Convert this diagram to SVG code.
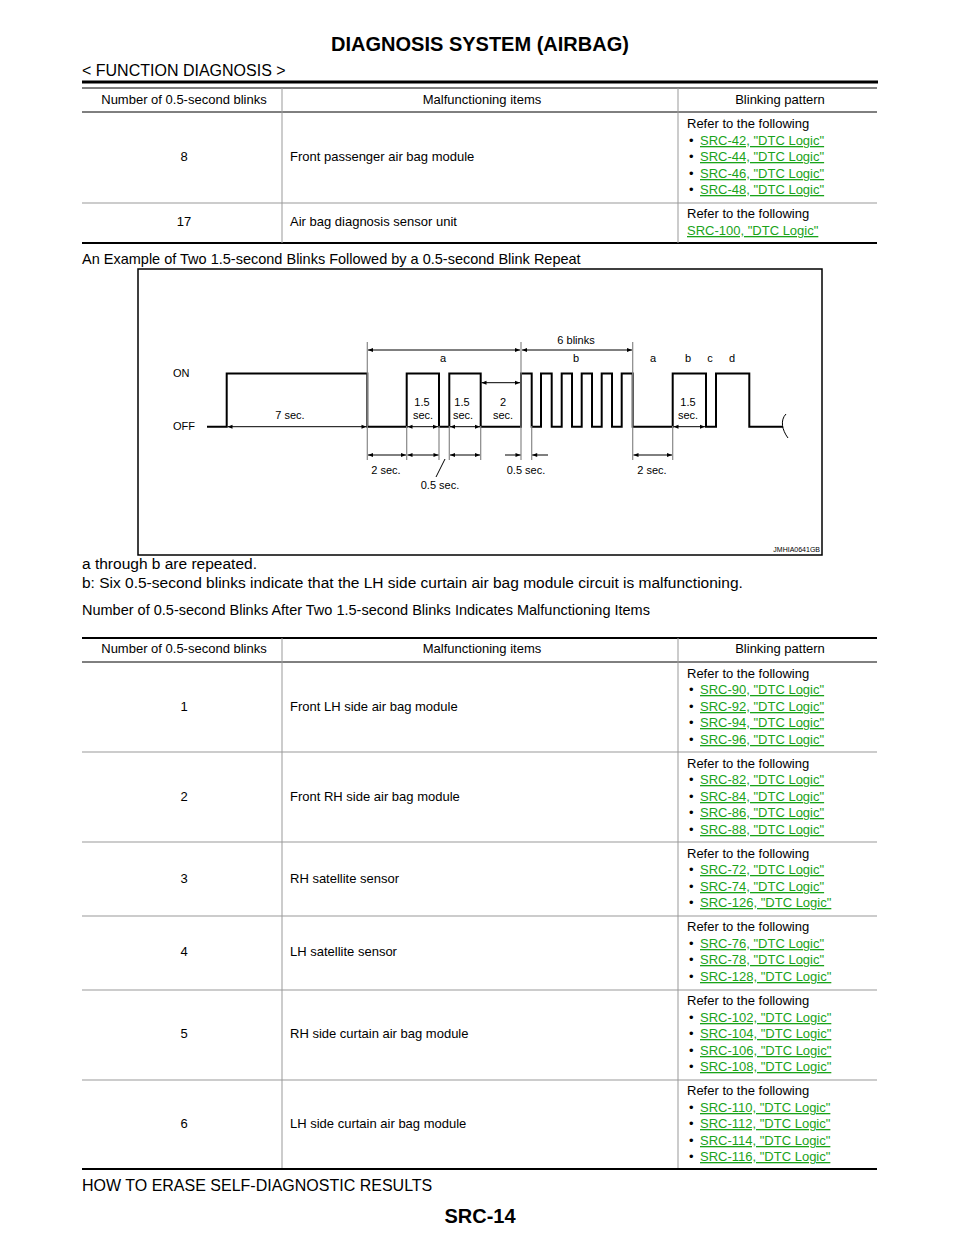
<svg xmlns="http://www.w3.org/2000/svg" width="960" height="1242" viewBox="0 0 960 1242">
<defs>
<marker id="ar" viewBox="0 0 10 10" refX="10" refY="5" markerWidth="7" markerHeight="5" orient="auto-start-reverse" markerUnits="userSpaceOnUse"><path d="M0,1 L10,5 L0,9 z" fill="#000"/></marker>
</defs>
<style>
text{font-family:"Liberation Sans",Arial,sans-serif;fill:#000}
.t{font-size:13px}
.c{text-anchor:middle}
.l{fill:#1aa31a;text-decoration:underline}
.g{stroke:#000;stroke-width:1;fill:none}
.w{stroke:#000;stroke-width:2;fill:none}
.e{stroke:#888;stroke-width:1.2}
.d{stroke:#000;stroke-width:1;marker-start:url(#ar);marker-end:url(#ar)}
.s{font-size:11px}
</style>
<rect width="960" height="1242" fill="#fff"/>
<text x="480" y="51" class="c" font-size="20" font-weight="bold">DIAGNOSIS SYSTEM (AIRBAG)</text>
<text x="82" y="76" font-size="16">&lt; FUNCTION DIAGNOSIS &gt;</text>
<line x1="82" y1="82" x2="878" y2="82" stroke="#000" stroke-width="3"/>

<g id="table1">
<line x1="82" y1="88" x2="877" y2="88" class="g"/>
<line x1="82" y1="112" x2="877" y2="112" class="g"/>
<line x1="82" y1="203" x2="877" y2="203" stroke="#999"/>
<line x1="82" y1="243" x2="877" y2="243" stroke="#000" stroke-width="2"/>
<line x1="282" y1="88" x2="282" y2="243" stroke="#999"/>
<line x1="678" y1="88" x2="678" y2="243" stroke="#999"/>
<text x="184" y="104" class="t c">Number of 0.5-second blinks</text>
<text x="482" y="104" class="t c">Malfunctioning items</text>
<text x="780" y="104" class="t c">Blinking pattern</text>
<text x="184" y="161" class="t c">8</text>
<text x="290" y="161" class="t">Front passenger air bag module</text>
<text x="687" y="128" class="t">Refer to the following</text>
<text x="689" y="145" class="t">•</text><text x="700" y="145" class="t l">SRC-42, "DTC Logic"</text>
<text x="689" y="161" class="t">•</text><text x="700" y="161" class="t l">SRC-44, "DTC Logic"</text>
<text x="689" y="178" class="t">•</text><text x="700" y="178" class="t l">SRC-46, "DTC Logic"</text>
<text x="689" y="194" class="t">•</text><text x="700" y="194" class="t l">SRC-48, "DTC Logic"</text>
<text x="184" y="226" class="t c">17</text>
<text x="290" y="226" class="t">Air bag diagnosis sensor unit</text>
<text x="687" y="218" class="t">Refer to the following</text>
<text x="687" y="235" class="t l">SRC-100, "DTC Logic"</text>
</g>

<text x="82" y="264" font-size="14.5">An Example of Two 1.5-second Blinks Followed by a 0.5-second Blink Repeat</text>

<g id="chart">
<rect x="138" y="269" width="684" height="286" fill="none" stroke="#000" stroke-width="1.5"/>
<text x="173" y="377" class="s">ON</text>
<text x="173" y="430" class="s">OFF</text>
<path class="w" d="M207,426.7 H226.7 V373.5 H367.3 V426.7 H406.7 V373.5 H439 V426.7 H449.3 V373.5 H480.7 V426.7 H521 V373.5 H531.7 V426.7 H541 V373.5 H551.7 V426.7 H561.7 V373.5 H572 V426.7 H581.7 V373.5 H592 V426.7 H601.7 V373.5 H612 V426.7 H621.7 V373.5 H632.7 V426.7 H672.7 V373.5 H706 V426.7 H716 V373.5 H749.3 V426.7 H783"/>
<path class="g" d="M786,414 C780,420 782,430 788,438"/>
<g class="e">
<line x1="367.3" y1="342" x2="367.3" y2="460"/>
<line x1="521" y1="342" x2="521" y2="460"/>
<line x1="632.7" y1="342" x2="632.7" y2="426"/>
<line x1="406.7" y1="426" x2="406.7" y2="460"/>
<line x1="439" y1="426" x2="439" y2="460"/>
<line x1="449.3" y1="426" x2="449.3" y2="460"/>
<line x1="480.7" y1="426" x2="480.7" y2="460"/>
<line x1="531.7" y1="426" x2="531.7" y2="460"/>
<line x1="632.7" y1="426" x2="632.7" y2="460"/>
<line x1="672.7" y1="426" x2="672.7" y2="460"/>
</g>
<g id="dims">
<line class="d" x1="368" y1="350" x2="520" y2="350"/>
<line class="d" x1="522" y1="350" x2="632" y2="350"/>
<line class="d" x1="481.5" y1="382.7" x2="520" y2="382.7"/>
<line class="d" x1="227.5" y1="426.7" x2="366.5" y2="426.7"/>
<line class="d" x1="407.5" y1="426.7" x2="438" y2="426.7"/>
<line class="d" x1="450" y1="426.7" x2="480" y2="426.7"/>
<line class="d" x1="673.5" y1="426.7" x2="705" y2="426.7"/>
<line class="d" x1="368" y1="455" x2="406" y2="455"/>
<line class="d" x1="407.5" y1="455" x2="438.5" y2="455"/>
<line class="d" x1="450" y1="455" x2="480" y2="455"/>
<line class="d" x1="633.5" y1="455" x2="672" y2="455"/>
<line x1="505" y1="455" x2="520.5" y2="455" stroke="#000" marker-end="url(#ar)"/>
<line x1="548" y1="455" x2="532.2" y2="455" stroke="#000" marker-end="url(#ar)"/>
<line x1="445" y1="459" x2="436" y2="477" stroke="#000"/>
</g>
<text x="443" y="362" class="s c">a</text>
<text x="576" y="344" class="s c">6 blinks</text>
<text x="576" y="362" class="s c">b</text>
<text x="653" y="362" class="s c">a</text>
<text x="688" y="362" class="s c">b</text>
<text x="710" y="362" class="s c">c</text>
<text x="732" y="362" class="s c">d</text>
<text x="290" y="419" class="s c">7 sec.</text>
<text x="422" y="406" class="s c">1.5</text><text x="423" y="419" class="s c">sec.</text>
<text x="462" y="406" class="s c">1.5</text><text x="463" y="419" class="s c">sec.</text>
<text x="503" y="406" class="s c">2</text><text x="503" y="419" class="s c">sec.</text>
<text x="688" y="406" class="s c">1.5</text><text x="688" y="419" class="s c">sec.</text>
<text x="386" y="474" class="s c">2 sec.</text>
<text x="440" y="489" class="s c">0.5 sec.</text>
<text x="526" y="474" class="s c">0.5 sec.</text>
<text x="652" y="474" class="s c">2 sec.</text>
<text x="820" y="552" font-size="7" text-anchor="end">JMHIA0641GB</text>
</g>

<text x="82" y="569" font-size="15.5">a through b are repeated.</text>
<text x="82" y="588" font-size="15.5">b: Six 0.5-second blinks indicate that the LH side curtain air bag module circuit is malfunctioning.</text>
<text x="82" y="615" font-size="14.5">Number of 0.5-second Blinks After Two 1.5-second Blinks Indicates Malfunctioning Items</text>

<g id="table2">
<line x1="82" y1="638" x2="877" y2="638" stroke="#000" stroke-width="2"/>
<line x1="82" y1="662" x2="877" y2="662" class="g"/>
<g stroke="#999">
<line x1="82" y1="752" x2="877" y2="752"/>
<line x1="82" y1="842" x2="877" y2="842"/>
<line x1="82" y1="916" x2="877" y2="916"/>
<line x1="82" y1="990" x2="877" y2="990"/>
<line x1="82" y1="1080" x2="877" y2="1080"/>
<line x1="282" y1="638" x2="282" y2="1169"/>
<line x1="678" y1="638" x2="678" y2="1169"/>
</g>
<line x1="82" y1="1169" x2="877" y2="1169" stroke="#000" stroke-width="2"/>
<text x="184" y="653" class="t c">Number of 0.5-second blinks</text>
<text x="482" y="653" class="t c">Malfunctioning items</text>
<text x="780" y="653" class="t c">Blinking pattern</text>

<text x="184" y="711" class="t c">1</text>
<text x="290" y="711" class="t">Front LH side air bag module</text>
<text x="687" y="678" class="t">Refer to the following</text>
<text x="689" y="694" class="t">•</text><text x="700" y="694" class="t l">SRC-90, "DTC Logic"</text>
<text x="689" y="711" class="t">•</text><text x="700" y="711" class="t l">SRC-92, "DTC Logic"</text>
<text x="689" y="727" class="t">•</text><text x="700" y="727" class="t l">SRC-94, "DTC Logic"</text>
<text x="689" y="744" class="t">•</text><text x="700" y="744" class="t l">SRC-96, "DTC Logic"</text>

<text x="184" y="801" class="t c">2</text>
<text x="290" y="801" class="t">Front RH side air bag module</text>
<text x="687" y="768" class="t">Refer to the following</text>
<text x="689" y="784" class="t">•</text><text x="700" y="784" class="t l">SRC-82, "DTC Logic"</text>
<text x="689" y="801" class="t">•</text><text x="700" y="801" class="t l">SRC-84, "DTC Logic"</text>
<text x="689" y="817" class="t">•</text><text x="700" y="817" class="t l">SRC-86, "DTC Logic"</text>
<text x="689" y="834" class="t">•</text><text x="700" y="834" class="t l">SRC-88, "DTC Logic"</text>

<text x="184" y="883" class="t c">3</text>
<text x="290" y="883" class="t">RH satellite sensor</text>
<text x="687" y="858" class="t">Refer to the following</text>
<text x="689" y="874" class="t">•</text><text x="700" y="874" class="t l">SRC-72, "DTC Logic"</text>
<text x="689" y="891" class="t">•</text><text x="700" y="891" class="t l">SRC-74, "DTC Logic"</text>
<text x="689" y="907" class="t">•</text><text x="700" y="907" class="t l">SRC-126, "DTC Logic"</text>

<text x="184" y="956" class="t c">4</text>
<text x="290" y="956" class="t">LH satellite sensor</text>
<text x="687" y="931" class="t">Refer to the following</text>
<text x="689" y="948" class="t">•</text><text x="700" y="948" class="t l">SRC-76, "DTC Logic"</text>
<text x="689" y="964" class="t">•</text><text x="700" y="964" class="t l">SRC-78, "DTC Logic"</text>
<text x="689" y="981" class="t">•</text><text x="700" y="981" class="t l">SRC-128, "DTC Logic"</text>

<text x="184" y="1038" class="t c">5</text>
<text x="290" y="1038" class="t">RH side curtain air bag module</text>
<text x="687" y="1005" class="t">Refer to the following</text>
<text x="689" y="1022" class="t">•</text><text x="700" y="1022" class="t l">SRC-102, "DTC Logic"</text>
<text x="689" y="1038" class="t">•</text><text x="700" y="1038" class="t l">SRC-104, "DTC Logic"</text>
<text x="689" y="1055" class="t">•</text><text x="700" y="1055" class="t l">SRC-106, "DTC Logic"</text>
<text x="689" y="1071" class="t">•</text><text x="700" y="1071" class="t l">SRC-108, "DTC Logic"</text>

<text x="184" y="1128" class="t c">6</text>
<text x="290" y="1128" class="t">LH side curtain air bag module</text>
<text x="687" y="1095" class="t">Refer to the following</text>
<text x="689" y="1112" class="t">•</text><text x="700" y="1112" class="t l">SRC-110, "DTC Logic"</text>
<text x="689" y="1128" class="t">•</text><text x="700" y="1128" class="t l">SRC-112, "DTC Logic"</text>
<text x="689" y="1145" class="t">•</text><text x="700" y="1145" class="t l">SRC-114, "DTC Logic"</text>
<text x="689" y="1161" class="t">•</text><text x="700" y="1161" class="t l">SRC-116, "DTC Logic"</text>
</g>

<text x="82" y="1191" font-size="16">HOW TO ERASE SELF-DIAGNOSTIC RESULTS</text>
<text x="480" y="1223" class="c" font-size="20" font-weight="bold">SRC-14</text>
</svg>
